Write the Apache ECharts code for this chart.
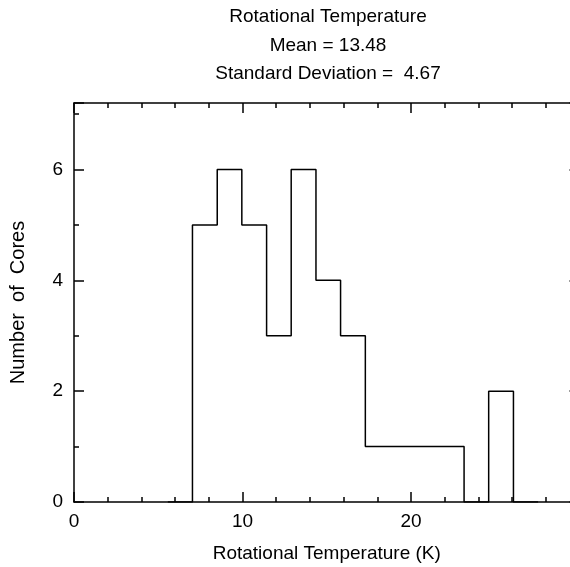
<!DOCTYPE html>
<html>
<head>
<meta charset="utf-8">
<script src="https://cdn.jsdelivr.net/npm/echarts@6/dist/echarts.min.js"></script>
<style>
html,body{margin:0;padding:0;background:#fff;}
#c{width:570px;height:567px;}
</style>
</head>
<body>
<div id="c"></div>
<script>
// Bin edges (K), including an empty bin on each side
var binEdges = [5.57, 7.03, 8.50, 9.96, 11.43, 12.89, 14.36, 15.82, 17.29, 18.75, 20.22, 21.68, 23.15, 24.61, 26.08, 27.54];
// Counts per bin (one fewer than edges)
var binCounts = [0, 5, 6, 5, 3, 6, 4, 3, 1, 1, 1, 1, 0, 2, 0];
var xTickLabels = [0, 10, 20];
var yTickLabels = [0, 2, 4, 6];
var titleLines = ['Rotational Temperature', 'Mean = 13.48', 'Standard Deviation =  4.67'];

var stepData = [];
for (var i = 0; i < binCounts.length; i++) stepData.push([binEdges[i], binCounts[i]]);
stepData.push([binEdges[binEdges.length - 1], binCounts[binCounts.length - 1]]);

var FONT = 'Liberation Sans';
var FS = 19;
var black = '#000';

function xAx(pos, showLabels) {
  return {
    type: 'value', position: pos, min: 0, max: 30, interval: 10,
    axisLine: {show: true, onZero: false, lineStyle: {color: black, width: 1.5}},
    axisTick: {show: true, inside: true, length: 10, lineStyle: {color: black, width: 1.5}},
    minorTick: {show: true, splitNumber: 5, length: 5, lineStyle: {color: black, width: 1.5}},
    splitLine: {show: false},
    axisLabel: {show: showLabels, margin: 10, color: black, fontFamily: FONT, fontSize: FS,
      formatter: function (v) { return xTickLabels.indexOf(v) >= 0 ? String(v) : ''; }},
    name: showLabels ? 'Rotational Temperature (K)' : '',
    nameLocation: 'middle', nameGap: 42,
    nameTextStyle: {color: black, fontFamily: FONT, fontSize: FS}
  };
}
function yAx(pos, showLabels) {
  return {
    type: 'value', position: pos, min: 0, max: 7.2, interval: 2,
    axisLine: {show: true, onZero: false, lineStyle: {color: black, width: 1.5}},
    axisTick: {show: true, inside: true, length: 10, lineStyle: {color: black, width: 1.5}},
    minorTick: {show: true, splitNumber: 2, length: 5, lineStyle: {color: black, width: 1.5}},
    splitLine: {show: false},
    axisLabel: {show: showLabels, margin: 11, color: black, fontFamily: FONT, fontSize: FS,
      formatter: function (v) { return yTickLabels.indexOf(v) >= 0 ? String(v) : ''; }},
    name: showLabels ? 'Number  of  Cores' : '',
    nameLocation: 'middle', nameGap: 46,
    nameTextStyle: {color: black, fontFamily: FONT, fontSize: 20}
  };
}

var chart = echarts.init(document.getElementById('c'), null, {renderer: 'canvas'});
chart.setOption({
  animation: false,
  backgroundColor: '#fff',
  title: {
    text: titleLines.join('\n'),
    left: 323, top: -2, textAlign: 'center',
    textStyle: {color: black, fontFamily: FONT, fontSize: FS, fontWeight: 'normal', lineHeight: 28.5}
  },
  grid: {left: 74, right: -9.5, top: 103, bottom: 65, containLabel: false, outerBoundsMode: 'none'},
  xAxis: [xAx('bottom', true), xAx('top', false)],
  yAxis: [yAx('left', true), yAx('right', false)],
  series: [{
    type: 'line', step: 'end', data: stepData, xAxisIndex: 0, yAxisIndex: 0,
    symbol: 'none', lineStyle: {color: black, width: 1.5}, silent: true
  }]
});
</script>
</body>
</html>
